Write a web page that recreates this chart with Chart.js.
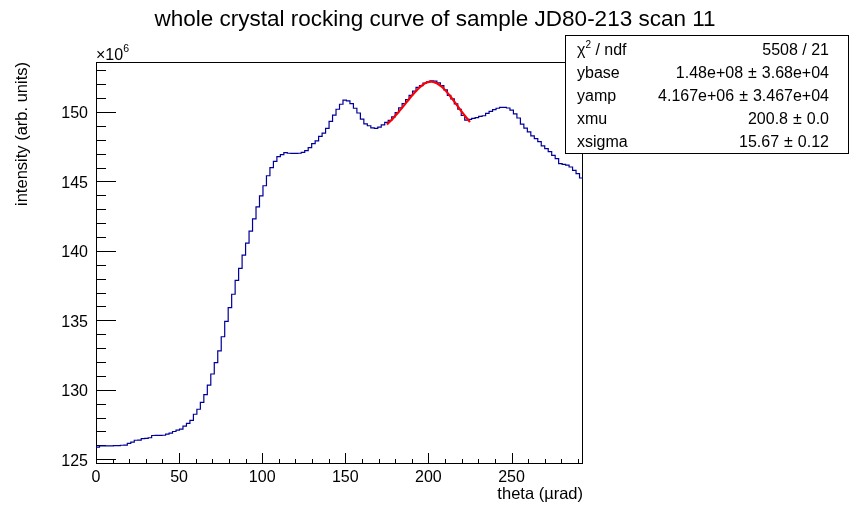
<!DOCTYPE html>
<html>
<head>
<meta charset="utf-8">
<script src="https://cdn.jsdelivr.net/npm/chart.js@4.4.0/dist/chart.umd.min.js"></script>
<style>
html, body { margin: 0; padding: 0; background: #fff; }
</style>
</head>
<body>
<canvas id="rocking" width="862" height="516"></canvas>
<script>
// histogram: 140 bins over theta 0..293 urad, values in units of 1e6
const xMin = 0;
const xMax = 293;
const nBins = 140;
const counts = [
  125.87, 125.96, 125.97, 125.97, 125.97, 125.98, 125.98, 126.01, 126.02, 126.14,
  126.23, 126.37, 126.38, 126.49, 126.50, 126.55, 126.71, 126.72, 126.72, 126.73,
  126.81, 126.88, 127.00, 127.10, 127.17, 127.39, 127.59, 127.80, 128.24, 128.60,
  129.10, 129.66, 130.34, 131.14, 131.96, 132.80, 133.82, 134.93, 135.92, 136.88,
  137.88, 138.75, 139.69, 140.56, 141.43, 142.30, 143.17, 143.96, 144.69, 145.41,
  145.99, 146.45, 146.79, 146.93, 147.08, 147.03, 147.02, 147.02, 147.03, 147.10,
  147.22, 147.44, 147.73, 147.92, 148.24, 148.48, 148.82, 149.33, 149.78, 150.20,
  150.56, 150.85, 150.80, 150.60, 150.27, 149.93, 149.49, 149.15, 149.01, 148.86,
  148.82, 148.91, 149.08, 149.25, 149.40, 149.65, 149.95, 150.30, 150.60, 150.89,
  151.20, 151.50, 151.78, 151.90, 152.08, 152.17, 152.25, 152.22, 152.10, 151.90,
  151.60, 151.20, 150.94, 150.58, 150.20, 149.75, 149.42, 149.47, 149.54, 149.60,
  149.69, 149.73, 149.90, 150.05, 150.17, 150.27, 150.34, 150.34, 150.29, 150.14,
  149.86, 149.57, 149.13, 148.84, 148.57, 148.28, 148.09, 147.87, 147.56, 147.37,
  147.15, 146.88, 146.64, 146.28, 146.23, 146.18, 146.04, 145.80, 145.56, 145.25
];

// red fit curve
const fitX = [175, 178, 181, 184, 187, 190, 193, 196, 199, 202, 205, 208, 211, 214, 217, 220, 223, 225];
const fitY = [149.10, 149.45, 149.85, 150.28, 150.73, 151.17, 151.57, 151.90, 152.12, 152.18,
              152.07, 151.82, 151.45, 151.00, 150.52, 150.03, 149.57, 149.28];

const xTickLabels = [0, 50, 100, 150, 200, 250];
const yTickLabels = [125, 130, 135, 140, 145, 150];

// stats box: name, value, error (error '' means plain text)
const statNames = ['ndf', 'ybase', 'yamp', 'xmu', 'xsigma'];
const statValues = ['5508 / 21', '1.48e+08', '4.167e+06', '200.8', '15.67'];
const statErrors = ['', '3.68e+04', '3.467e+04', '0.0', '0.12'];

const titleText = 'whole crystal rocking curve of sample JD80-213 scan 11';
const xTitle = 'theta (\u00b5rad)';
const yTitle = 'intensity (arb. units)';

const FONT = '"Liberation Sans", Arial, Helvetica, sans-serif';

// bin edges -> step points
const binW = (xMax - xMin) / nBins;
const histPoints = counts.map((v, i) => ({ x: xMin + i * binW, y: v }));
histPoints.push({ x: xMax, y: counts[counts.length - 1] });
const fitPoints = fitX.map((x, i) => ({ x: x, y: fitY[i] }));

const rootFrame = {
  id: 'rootFrame',
  beforeDatasetsDraw(chart) {
    const ctx = chart.ctx;
    const a = chart.chartArea;
    const xs = chart.scales.x, ys = chart.scales.y;
    ctx.save();
    ctx.strokeStyle = '#000';
    ctx.lineWidth = 1;
    ctx.strokeRect(Math.round(a.left) + 0.5, Math.round(a.top) + 0.5,
                   Math.round(a.right - a.left) - 1, Math.round(a.bottom - a.top) - 1);
    ctx.beginPath();
    ys.ticks.forEach(t => {
      const p = Math.round(ys.getPixelForValue(t.value)) + 0.5;
      const len = t.value % 5 === 0 ? 20 : 10;
      ctx.moveTo(a.left, p);
      ctx.lineTo(a.left + len, p);
    });
    xs.ticks.forEach(t => {
      const p = Math.round(xs.getPixelForValue(t.value)) + 0.5;
      const len = t.value % 50 === 0 ? 11 : 5;
      ctx.moveTo(p, a.bottom);
      ctx.lineTo(p, a.bottom - len);
    });
    ctx.stroke();
    ctx.restore();
  },
  afterDraw(chart) {
    const ctx = chart.ctx;
    const a = chart.chartArea;
    ctx.save();
    ctx.fillStyle = '#000';
    ctx.textBaseline = 'alphabetic';

    // title
    ctx.font = '22.5px ' + FONT;
    ctx.textAlign = 'center';
    ctx.fillText(titleText, 435, 26);

    // axis titles
    ctx.font = '16.5px ' + FONT;
    ctx.textAlign = 'right';
    ctx.fillText(xTitle, a.right, 499);
    ctx.save();
    ctx.translate(27, a.top);
    ctx.rotate(-Math.PI / 2);
    ctx.textAlign = 'right';
    ctx.fillText(yTitle, 0, 0);
    ctx.restore();

    // x10^6
    ctx.textAlign = 'left';
    ctx.font = '16px ' + FONT;
    ctx.fillText('\u00d710', a.left, 60);
    const w10 = ctx.measureText('\u00d710').width;
    ctx.font = '10.5px ' + FONT;
    ctx.fillText('6', a.left + w10, 52);

    // stats box
    const bx = 565, by = 35, bw = 283, bh = 118;
    ctx.fillStyle = '#fff';
    ctx.fillRect(bx, by, bw, bh);
    ctx.strokeStyle = '#000';
    ctx.lineWidth = 1;
    ctx.strokeRect(bx + 0.5, by + 0.5, bw, bh);
    ctx.fillStyle = '#000';
    const rowY = [55, 78, 101, 124, 147];
    const textFont = '16px ' + FONT;
    const right = 829;
    statNames.forEach((n, i) => {
      ctx.textAlign = 'left';
      ctx.font = textFont;
      if (i === 0) {
        ctx.fillText('\u03c7', 577, rowY[i]);
        const wc = ctx.measureText('\u03c7').width;
        ctx.font = '10px ' + FONT;
        ctx.fillText('2', 577 + wc, rowY[i] - 7);
        const w2 = ctx.measureText('2').width;
        ctx.font = textFont;
        ctx.fillText(' / ' + n, 577 + wc + w2, rowY[i]);
      } else {
        ctx.fillText(n, 577, rowY[i]);
      }
      ctx.font = textFont;
      ctx.textAlign = 'right';
      if (statErrors[i] === '') {
        ctx.fillText(statValues[i], right, rowY[i]);
      } else {
        const we = ctx.measureText(statErrors[i]).width;
        const wpm = ctx.measureText('\u00b1').width;
        const gap = 5;
        ctx.fillText(statErrors[i], right, rowY[i]);
        ctx.fillText('\u00b1', right - we - gap, rowY[i]);
        ctx.fillText(statValues[i], right - we - gap - wpm - gap, rowY[i]);
      }
    });
    ctx.restore();
  }
};

new Chart(document.getElementById('rocking'), {
  type: 'line',
  data: {
    datasets: [
      {
        label: 'fit',
        data: fitPoints,
        borderColor: '#ff0000',
        borderWidth: 2.2,
        pointRadius: 0,
        tension: 0.3,
        order: 0
      },
      {
        label: 'histogram',
        data: histPoints,
        borderColor: '#000099',
        borderWidth: 1.2,
        pointRadius: 0,
        stepped: true,
        order: 1
      }
    ]
  },
  options: {
    responsive: false,
    animation: false,
    devicePixelRatio: 1,
    layout: { padding: { left: 0, top: 62, right: 279, bottom: 0 } },
    plugins: {
      legend: { display: false },
      tooltip: { enabled: false },
      title: { display: false }
    },
    scales: {
      x: {
        type: 'linear',
        min: xMin,
        max: xMax,
        grid: { display: false, drawTicks: false },
        border: { display: false },
        ticks: {
          stepSize: 10,
          includeBounds: false,
          autoSkip: false,
          maxRotation: 0,
          padding: 4,
          color: '#000',
          font: { family: FONT, size: 16 },
          callback: v => xTickLabels.includes(v) ? String(v) : ''
        },
        afterFit: s => { s.height = 52; }
      },
      y: {
        type: 'linear',
        min: 124.66,
        max: 153.6,
        grid: { display: false, drawTicks: false },
        border: { display: false },
        ticks: {
          stepSize: 1,
          includeBounds: false,
          autoSkip: false,
          padding: 8,
          labelOffset: 2,
          color: '#000',
          font: { family: FONT, size: 16 },
          callback: v => yTickLabels.includes(v) ? String(v) : ''
        },
        afterFit: s => { s.width = 96; }
      }
    }
  },
  plugins: [rootFrame]
});
</script>
</body>
</html>
